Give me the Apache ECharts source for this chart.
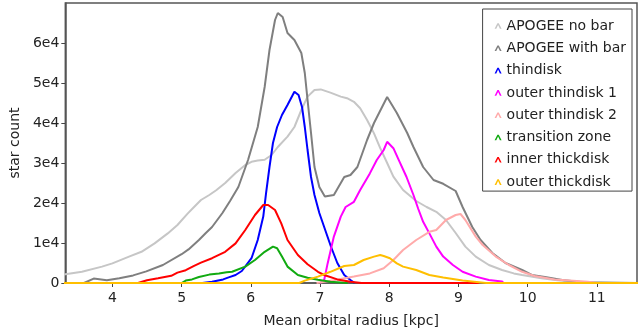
<!DOCTYPE html>
<html>
<head>
<meta charset="utf-8">
<script src="https://cdn.jsdelivr.net/npm/echarts@6/dist/echarts.min.js"></script>
<style>html,body{margin:0;padding:0;background:#fff}#c{width:638px;height:333px}</style>
</head>
<body>
<div id="c"></div>
<script>
const seriesNames = ["APOGEE no bar","APOGEE with bar","thindisk","outer thindisk 1","outer thindisk 2","transition zone","inner thickdisk","outer thickdisk"];
const xTicks = [4,5,6,7,8,9,10,11];
const yTicks = [0,10000,20000,30000,40000,50000,60000];

const noBarX = [3.2,3.32,3.56,3.85,4.0,4.24,4.42,4.61,4.8,4.94,5.09,5.18,5.28,5.4,5.5,5.63,5.78,5.92,6.01,6.1,6.2,6.3,6.39,6.53,6.63,6.73,6.82,6.92,7.01,7.15,7.3,7.39,7.49,7.58,7.68,7.78,7.87,7.97,8.06,8.2,8.39,8.54,8.68,8.82,8.96,9.1,9.25,9.44,9.63,9.8,9.92,10.2,10.4,10.6,10.8,11.0,11.6];
const noBarY = [1900,2200,2800,4100,4900,6600,7800,9900,12400,14500,17400,19000,20750,22000,23200,25000,27500,29500,30300,30600,30800,32000,34000,36600,39000,43250,46600,48250,48400,47600,46600,46200,45300,43700,40750,37400,33700,30000,26600,23250,20500,19000,17800,15750,12500,9100,6600,4500,3250,2400,2000,1200,750,400,150,0,0];

const withBarX = [3.59,3.73,3.92,4.1,4.3,4.49,4.73,5.0,5.1,5.25,5.35,5.44,5.59,5.7,5.82,5.96,6.1,6.2,6.27,6.35,6.39,6.46,6.53,6.63,6.73,6.78,6.82,6.87,6.92,6.99,7.07,7.2,7.35,7.44,7.54,7.68,7.78,7.97,8.11,8.26,8.35,8.49,8.64,8.78,8.96,9.06,9.2,9.32,9.49,9.68,9.92,10.06,10.25,10.5,10.8,11.6];
const withBarY = [0,1100,700,1200,1900,2900,4500,7200,8400,10750,12500,14000,17500,20500,24000,30750,39000,49000,58250,65750,67500,66500,62500,60750,57500,52500,45750,37500,29000,24000,21600,22000,26500,27000,29000,35750,40000,46500,42500,37500,34000,29000,25750,24800,23000,19000,14000,10750,7500,5000,3250,2000,1500,750,200,0];

const thinX = [5.3,5.44,5.6,5.68,5.78,5.87,6.01,6.1,6.18,6.22,6.27,6.32,6.38,6.45,6.53,6.63,6.69,6.74,6.78,6.82,6.87,6.92,6.99,7.06,7.16,7.25,7.35,7.44,7.5];
const thinY = [0,300,900,1400,2000,3000,6200,10750,16600,22400,29000,35000,39000,42000,44500,47800,47000,44000,39000,33250,26500,22000,17500,14000,9000,5000,2000,750,0];

const outer1X = [7.0,7.06,7.11,7.2,7.3,7.37,7.49,7.58,7.72,7.82,7.92,7.97,8.06,8.15,8.25,8.35,8.42,8.49,8.58,8.68,8.78,8.92,9.06,9.25,9.44,9.63,9.65];
const outer1Y = [0,750,4900,11600,16600,19000,20300,23250,27400,30750,33250,35300,33700,30300,26500,22000,18500,15300,12400,9100,6600,4500,2800,1600,750,400,0];

const outer2X = [6.95,7.2,7.49,7.72,7.92,8.06,8.2,8.39,8.58,8.68,8.82,8.96,9.03,9.1,9.25,9.35,9.54,9.73,9.92,10.1,10.39,10.87,11.0];
const outer2Y = [0,700,1600,2400,3700,5750,8250,10750,12800,13250,15750,17000,17250,15750,11600,9500,6600,4500,2800,1750,900,300,0];

const transX = [5.0,5.06,5.15,5.25,5.4,5.54,5.65,5.73,5.92,6.06,6.2,6.32,6.38,6.45,6.53,6.68,6.82,6.97,7.15,7.4];
const transY = [0,600,900,1500,2100,2400,2700,2800,4100,5750,7800,9100,8700,6600,4100,2000,1300,800,300,0];

const innerThickX = [4.37,4.5,4.66,4.85,4.94,5.06,5.18,5.28,5.44,5.63,5.78,5.92,6.06,6.18,6.25,6.35,6.44,6.53,6.68,6.82,6.97,7.06,7.25,7.44,7.6,9.3];
const innerThickY = [0,700,1200,1800,2600,3200,4300,5100,6200,7800,9900,13250,17000,19500,19500,18250,14900,10750,7000,4700,2800,2000,900,300,0,0];

const outerThickX = [3.2,6.7,6.78,6.97,7.15,7.35,7.49,7.63,7.78,7.87,7.92,8.01,8.11,8.2,8.39,8.58,8.78,9.06,9.4,11.6];
const outerThickY = [0,0,600,1600,2800,4250,4500,5750,6600,7000,6750,6200,4900,4100,3250,2000,1400,600,0,0];

const colors = ["#c6c6c6","#7f7f7f","#0000ff","#ff00ff","#ffaaaa","#11aa11","#ff0000","#ffbf00"];
const xsAll = [noBarX,withBarX,thinX,outer1X,outer2X,transX,innerThickX,outerThickX];
const ysAll = [noBarY,withBarY,thinY,outer1Y,outer2Y,transY,innerThickY,outerThickY];

const font = "DejaVu Sans";
const chevron = 'path://M0,8 L4,0 L6,0 L10,8 L7.6,8 L5,2.6 L2.4,8 Z';

const chart = echarts.init(document.getElementById('c'), null, {renderer:'canvas'});
chart.setOption({
  animation:false,
  backgroundColor:'#fff',
  grid:{left:58,right:1,top:3,height:280,show:true,borderColor:'#555',borderWidth:1.5,containLabel:false},
  legend:{
    orient:'vertical', right:6, top:9,
    padding:[10,6,2,12],
    borderColor:'#444', borderWidth:1, backgroundColor:'#fff',
    itemWidth:7, itemHeight:6, itemGap:8.3,
    textStyle:{fontFamily:font,fontSize:14,color:'#222',lineHeight:14},
    data: seriesNames.map((n,i)=>({name:n,icon:chevron,itemStyle:{color:colors[i]}}))
  },
  xAxis:{
    type:'value', min:3.32, max:11.58,
    name:'Mean orbital radius [kpc]', nameLocation:'middle', nameGap:31,
    nameTextStyle:{fontFamily:font,fontSize:14,color:'#222'},
    axisLine:{show:true,lineStyle:{color:'#555',width:1.5}},
    axisTick:{show:true,inside:false,length:4,lineStyle:{color:'#444'},customValues:xTicks},
    axisLabel:{fontFamily:font,fontSize:14,color:'#222',margin:8,customValues:xTicks,formatter:v=>String(v)},
    splitLine:{show:false}
  },
  yAxis:{
    type:'value', min:0, max:70000,
    name:'star count', nameLocation:'middle', nameGap:43, nameRotate:90,
    nameTextStyle:{fontFamily:font,fontSize:14,color:'#222'},
    axisLine:{show:true,lineStyle:{color:'#555',width:1.5}},
    axisTick:{show:true,inside:false,length:4,lineStyle:{color:'#444'},customValues:yTicks},
    axisLabel:{fontFamily:font,fontSize:14,color:'#222',margin:6,customValues:yTicks,formatter:v=>v===0?'0':(v/10000)+'e4'},
    splitLine:{show:false}
  },
  series: seriesNames.map((n,i)=>({
    name:n, type:'line', symbol:'none', smooth:false, clip:true,
    lineStyle:{color:colors[i],width:2},
    itemStyle:{color:colors[i]},
    data: xsAll[i].map((x,j)=>[x,ysAll[i][j]]),
    z: 2+i
  }))
});
</script>
</body>
</html>
